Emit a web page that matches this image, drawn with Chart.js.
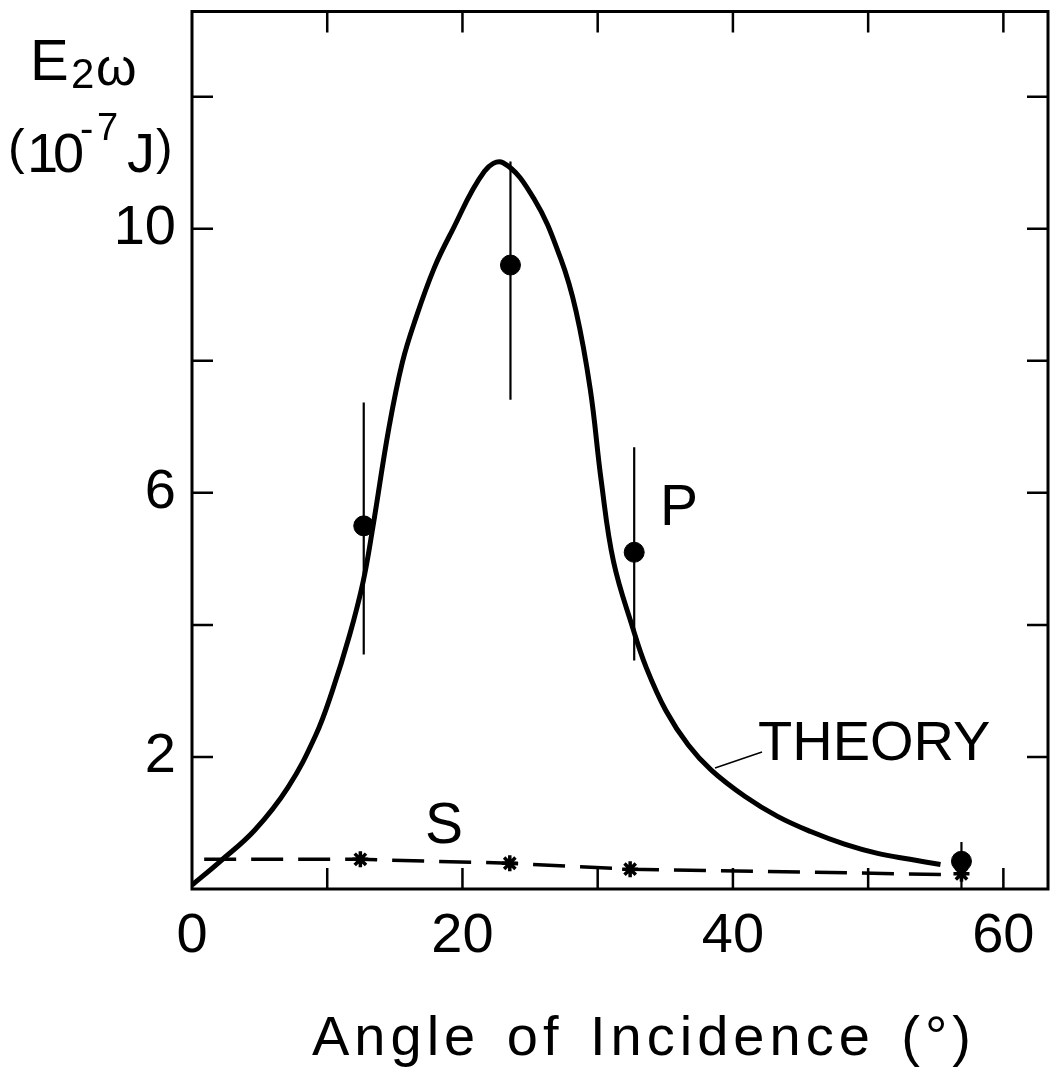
<!DOCTYPE html>
<html>
<head>
<meta charset="utf-8">
<title>Second harmonic energy vs angle of incidence</title>
<script src="https://cdn.jsdelivr.net/npm/chart.js@4.4.1/dist/chart.umd.min.js"></script>
<style>
  html, body { margin: 0; padding: 0; background: #fff; }
  #wrap { width: 1062px; height: 1073px; }
</style>
</head>
<body>
<div id="wrap"><canvas id="harmonicChart" width="1062" height="1073"></canvas></div>
<script>
// theory curve, p-polarised (angle in degrees, energy in 1e-7 J)
const theoryAngle = [0, 2.09, 4.63, 7.1, 9.13, 10.36, 11.66, 12.65, 13.35, 14.55, 15.56,
  16.56, 17.9, 19.14, 21.63, 23.0, 25.3, 27.26, 28.4, 29.45, 30.27, 31.17, 32.6, 33.6, 35.05,
  36.7, 38.4, 40.9, 43.3, 45.75, 48.25, 50.7, 53.1, 55.35];
const theoryEnergy = [0.06, 0.42, 0.89, 1.54, 2.32, 2.99, 3.85, 4.65, 5.45, 6.97, 7.98,
  8.65, 9.4, 9.93, 10.87, 11.0, 10.45, 9.55, 8.75, 7.57, 6.17, 4.96, 3.95, 3.35, 2.70,
  2.18, 1.80, 1.40, 1.10, 0.87, 0.68, 0.54, 0.45, 0.37];

// measured, p-polarised, with error bars
const pAngle = [12.7, 23.55, 32.7, 56.9];
const pEnergy = [5.5, 9.45, 5.1, 0.42];
const pErrLow = [3.55, 7.41, 3.46, 0.0];
const pErrHigh = [7.37, 11.02, 6.69, 0.71];

// measured, s-polarised
const sAngle = [12.45, 23.5, 32.4, 56.9];
const sEnergy = [0.45, 0.39, 0.30, 0.23];

// dashed guide through the s points
const sLineAngle = [0.9, 12.45, 23.5, 32.4, 55.5];
const sLineEnergy = [0.45, 0.45, 0.39, 0.30, 0.22];

const xTickMarks = [10, 20, 30, 40, 50, 60];
const xTickLabels = [0, 20, 40, 60];
const yTickMarks = [2, 4, 6, 8, 10, 12];
const yTickLabels = [2, 6, 10];

const FONT = "'Liberation Sans', Arial, sans-serif";

const zip = (xs, ys) => xs.map((x, i) => ({ x: x, y: ys[i] }));

// vertical error bars on the p points
const errorBarPlugin = {
  id: 'errorBars',
  beforeDatasetsDraw(chart) {
    const { ctx, scales: { x, y } } = chart;
    ctx.save();
    ctx.strokeStyle = '#000';
    ctx.lineWidth = 2.2;
    ctx.beginPath();
    pAngle.forEach((a, i) => {
      const px = x.getPixelForValue(a);
      ctx.moveTo(px, y.getPixelForValue(pErrLow[i]));
      ctx.lineTo(px, y.getPixelForValue(pErrHigh[i]));
    });
    ctx.stroke();
    ctx.restore();
  }
};

// box frame with inward tick marks on all four sides
const framePlugin = {
  id: 'frame',
  afterDatasetsDraw(chart) {
    const { ctx, chartArea: a, scales: { x, y } } = chart;
    const len = 21;
    ctx.save();
    ctx.strokeStyle = '#000';
    ctx.lineWidth = 3;
    ctx.strokeRect(a.left, a.top, a.right - a.left, a.bottom - a.top);
    ctx.lineWidth = 2.5;
    ctx.beginPath();
    xTickMarks.forEach(v => {
      const px = x.getPixelForValue(v);
      ctx.moveTo(px, a.bottom); ctx.lineTo(px, a.bottom - len);
      ctx.moveTo(px, a.top); ctx.lineTo(px, a.top + len);
    });
    yTickMarks.forEach(v => {
      const py = y.getPixelForValue(v);
      ctx.moveTo(a.left, py); ctx.lineTo(a.left + len, py);
      ctx.moveTo(a.right, py); ctx.lineTo(a.right - len, py);
    });
    ctx.stroke();
    ctx.restore();
  }
};

function put(ctx, text, x, y, size) {
  ctx.font = size + 'px ' + FONT;
  ctx.fillText(text, x, y);
}

// axis titles and curve annotations
const labelPlugin = {
  id: 'labels',
  afterDraw(chart) {
    const ctx = chart.ctx;
    ctx.save();
    ctx.fillStyle = '#000';
    ctx.textAlign = 'left';
    ctx.textBaseline = 'alphabetic';

    // E2ω (10^-7 J)
    put(ctx, 'E', 30, 80, 58);
    put(ctx, '2', 71, 88, 42);
    put(ctx, 'ω', 96, 85, 52);
    put(ctx, '(', 8, 164, 50);
    put(ctx, '1', 27, 172, 56);
    put(ctx, '0', 53, 172, 56);
    put(ctx, '-', 80, 142, 40);
    put(ctx, '7', 97, 140, 38);
    put(ctx, 'J', 127, 172, 56);
    put(ctx, ')', 156, 164, 50);

    // curve labels
    put(ctx, 'P', 660, 525, 57);
    put(ctx, 'S', 425, 843, 57);
    put(ctx, 'THEORY', 758, 760, 56);
    ctx.strokeStyle = '#000';
    ctx.lineWidth = 1.5;
    ctx.beginPath();
    ctx.moveTo(715, 768);
    ctx.lineTo(762, 752);
    ctx.stroke();

    // x axis title
    ctx.letterSpacing = '5px';
    ctx.wordSpacing = '6px';
    put(ctx, 'Angle of Incidence (°)', 312, 1055, 56);
    ctx.restore();
  }
};

new Chart(document.getElementById('harmonicChart'), {
  type: 'scatter',
  data: {
    datasets: [
      {
        label: 'P',
        data: zip(pAngle, pEnergy),
        showLine: false,
        pointRadius: 10,
        pointBackgroundColor: '#000',
        pointBorderColor: '#000'
      },
      {
        label: 'S',
        data: zip(sAngle, sEnergy),
        showLine: false,
        pointStyle: 'star',
        pointRadius: 8,
        pointBorderWidth: 3.5,
        pointBorderColor: '#000'
      },
      {
        label: 'Theory',
        data: zip(theoryAngle, theoryEnergy),
        showLine: true,
        borderColor: '#000',
        borderWidth: 5,
        pointRadius: 0,
        tension: 0.4
      },
      {
        label: 'S guide',
        data: zip(sLineAngle, sLineEnergy),
        showLine: true,
        borderColor: '#000',
        borderWidth: 3.5,
        borderDash: [32, 15],
        pointRadius: 0
      }
    ]
  },
  options: {
    responsive: false,
    animation: false,
    devicePixelRatio: 1,
    layout: { padding: { top: 8, right: 14, left: 0, bottom: 0 } },
    plugins: {
      legend: { display: false },
      tooltip: { enabled: false }
    },
    scales: {
      x: {
        type: 'linear',
        min: 0,
        max: 63.3,
        grid: { display: false, drawTicks: false },
        border: { display: false },
        ticks: {
          stepSize: 10,
          includeBounds: false,
          autoSkip: false,
          maxRotation: 0,
          padding: 14,
          color: '#000',
          font: { family: FONT, size: 56 },
          callback: v => xTickLabels.includes(v) ? String(v) : ''
        },
        afterFit: s => {
          s.height = 184;
          s.paddingLeft = 0;
          s.paddingRight = 0;
        }
      },
      y: {
        type: 'linear',
        min: 0,
        max: 13.29,
        grid: { display: false, drawTicks: false },
        border: { display: false },
        ticks: {
          stepSize: 2,
          includeBounds: false,
          autoSkip: false,
          padding: 16,
          color: '#000',
          font: { family: FONT, size: 56 },
          callback: v => yTickLabels.includes(v) ? String(v) : ''
        },
        afterFit: s => {
          s.width = 192;
          s.paddingTop = 0;
          s.paddingBottom = 0;
        }
      }
    }
  },
  plugins: [errorBarPlugin, framePlugin, labelPlugin]
});
</script>
</body>
</html>
